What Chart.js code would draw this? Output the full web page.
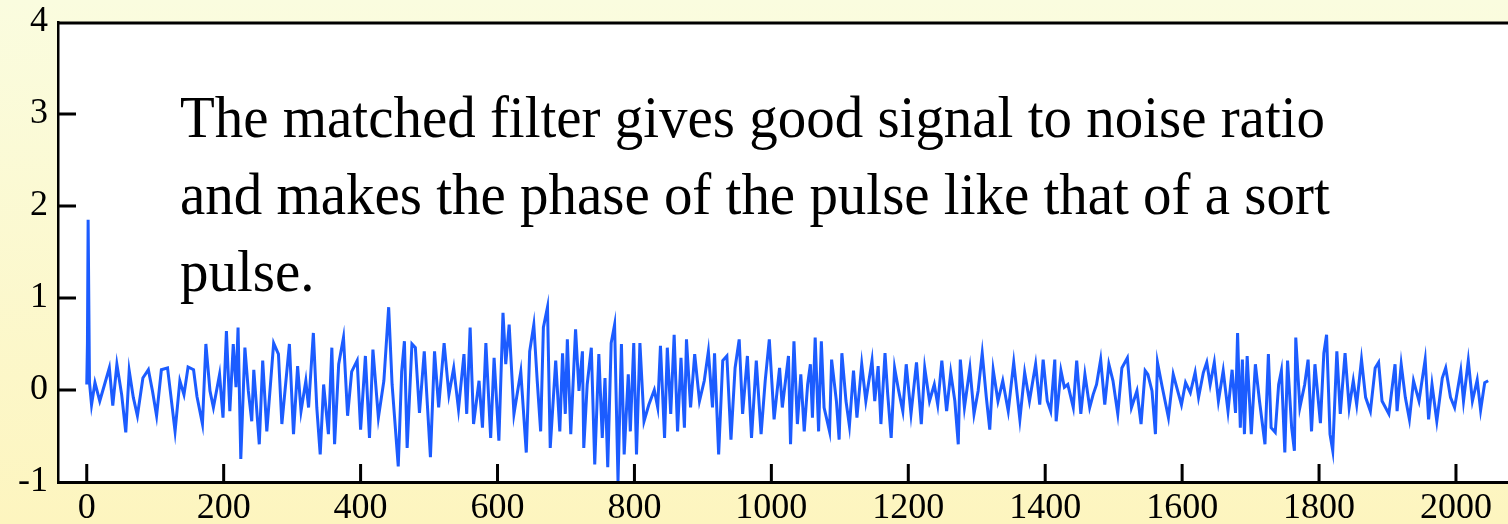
<!DOCTYPE html>
<html>
<head>
<meta charset="utf-8">
<script src="https://cdn.jsdelivr.net/npm/chart.js@4"></script>
<style>
  html, body { margin: 0; padding: 0; background: #fbfbdc; }
  canvas { display: block; }
</style>
</head>
<body>
<canvas id="filtro" width="1508" height="524"></canvas>
<script>
// valores: [muestra, amplitud]
var trace = [
  [0,0.06],[1,0.51],[2,1.85],[4,0.08],[7,-0.16],[12,0.08],[19,-0.12],[26,0.06],[33,0.24],[38,-0.17],
  [44,0.28],[51,-0.05],[57,-0.46],[62,0.21],[68,-0.08],[74,-0.28],[82,0.13],[90,0.22],[96,-0.01],[102,-0.28],
  [109,0.22],[118,0.24],[122,-0.01],[129,-0.45],[136,0.1],[142,-0.05],[148,0.25],[156,0.22],[161,-0.07],[169,-0.37],
  [174,0.5],[180,-0.01],[185,-0.19],[194,0.17],[199,-0.3],[204,0.64],[209,-0.23],[214,0.5],[218,0.03],[221,0.68],
  [225,-0.75],[231,0.46],[236,-0.01],[241,-0.34],[244,0.22],[252,-0.59],[257,0.32],[263,-0.45],[273,0.51],[280,0.39],
  [285,-0.37],[296,0.5],[302,-0.48],[308,0.26],[313,-0.23],[320,0.1],[324,-0.19],[331,0.62],[336,-0.19],[341,-0.7],
  [346,0.06],[353,-0.48],[358,0.46],[362,-0.59],[368,0.28],[375,0.57],[381,-0.28],[387,0.2],[395,0.32],[400,-0.43],
  [407,0.37],[413,-0.52],[418,0.44],[426,-0.3],[434,0.1],[441,0.9],[446,0.06],[455,-0.83],[460,0.2],[464,0.53],
  [468,-0.63],[475,0.5],[480,0.46],[486,-0.25],[493,0.42],[502,-0.73],[508,0.42],[514,-0.19],[522,0.51],[529,-0.05],
  [536,0.24],[543,-0.21],[551,0.39],[555,-0.26],[560,0.68],[565,-0.37],[573,0.1],[578,-0.41],[583,0.51],[590,-0.52],
  [595,0.35],[602,-0.55],[608,0.84],[612,0.28],[617,0.71],[624,-0.26],[634,0.2],[642,-0.68],[647,0.42],[653,0.71],
  [658,0.1],[663,-0.45],[667,0.68],[673,0.9],[677,-0.63],[685,0.32],[691,-0.45],[695,0.4],[699,-0.26],[702,0.55],
  [707,-0.48],[714,0.66],[719,-0.01],[724,0.42],[726,-0.63],[731,0.06],[737,0.46],[742,-0.81],[748,0.39],[753,-0.52],
  [757,0.13],[761,-0.84],[766,0.51],[771,0.71],[776,-0.99],[781,0.5],[785,-0.7],[791,0.17],[794,-0.45],[799,0.51],
  [803,-0.7],[808,0.51],[814,-0.34],[821,-0.16],[829,0.0],[834,-0.19],[838,0.48],[844,-0.52],[848,0.46],[853,-0.26],
  [858,0.6],[863,-0.45],[868,0.35],[873,-0.41],[876,0.55],[882,-0.19],[888,0.39],[895,-0.12],[902,0.1],[908,0.42],
  [914,-0.19],[917,0.4],[923,-0.7],[929,0.32],[935,0.37],[941,-0.54],[947,0.24],[953,0.55],[958,-0.26],[965,0.37],
  [971,-0.52],[978,0.32],[985,-0.48],[991,0.1],[997,0.55],[1004,-0.32],[1012,0.24],[1016,-0.19],[1025,0.37],[1028,-0.59],
  [1033,0.53],[1038,-0.37],[1043,0.17],[1048,-0.45],[1053,0.06],[1057,0.28],[1060,-0.3],[1064,0.57],[1069,-0.45],[1073,0.53],
  [1077,-0.19],[1085,-0.45],[1088,0.33],[1095,-0.12],[1099,-0.54],[1103,0.4],[1109,-0.12],[1114,-0.39],[1120,0.21],[1125,-0.3],
  [1132,0.28],[1138,-0.12],[1147,0.32],[1151,-0.12],[1156,0.26],[1160,-0.37],[1166,0.4],[1170,-0.05],[1175,-0.52],[1180,0.24],
  [1186,-0.01],[1192,-0.23],[1197,0.28],[1204,-0.26],[1212,0.3],[1219,-0.37],[1224,0.24],[1231,-0.12],[1238,0.06],[1243,-0.16],
  [1249,0.32],[1256,-0.23],[1262,0.19],[1268,-0.12],[1273,-0.59],[1276,0.33],[1282,-0.19],[1290,0.24],[1296,-0.26],[1302,-0.01],
  [1308,0.4],[1314,-0.08],[1319,-0.43],[1324,0.22],[1331,-0.12],[1338,0.1],[1346,-0.23],[1354,0.3],[1363,-0.32],[1370,0.19],
  [1377,-0.12],[1386,0.28],[1392,-0.16],[1397,0.33],[1403,-0.12],[1408,-0.23],[1414,0.33],[1416,-0.34],[1423,0.21],[1428,0.03],
  [1433,0.06],[1441,-0.19],[1446,0.32],[1452,-0.26],[1458,0.17],[1465,-0.19],[1470,-0.05],[1475,0.06],[1481,0.33],[1487,-0.16],
  [1493,0.28],[1499,0.1],[1506,-0.26],[1512,0.24],[1520,0.35],[1526,-0.19],[1534,-0.01],[1540,-0.37],[1546,0.21],[1550,0.17],
  [1556,-0.01],[1561,-0.48],[1564,0.3],[1571,0.03],[1580,-0.3],[1587,0.17],[1595,-0.05],[1599,-0.16],[1605,0.08],[1612,-0.03],
  [1619,0.19],[1624,-0.08],[1631,0.19],[1636,0.3],[1641,0.06],[1647,0.3],[1653,-0.12],[1660,0.21],[1667,-0.23],[1673,0.22],
  [1678,-0.25],[1681,0.62],[1685,-0.41],[1688,0.33],[1691,-0.48],[1695,0.37],[1701,-0.48],[1707,0.28],[1713,-0.12],[1721,-0.59],
  [1726,0.39],[1730,-0.41],[1736,-0.46],[1741,0.06],[1745,0.21],[1750,-0.68],[1754,0.32],[1760,-0.41],[1764,-0.66],[1766,0.57],
  [1772,-0.19],[1779,0.06],[1784,0.33],[1789,-0.45],[1794,0.28],[1802,-0.36],[1807,0.4],[1811,0.6],[1816,-0.48],[1820,-0.66],
  [1826,0.42],[1831,-0.26],[1838,0.4],[1844,-0.19],[1850,0.1],[1855,-0.16],[1862,0.33],[1868,-0.08],[1875,-0.23],[1882,0.24],
  [1887,0.3],[1892,-0.12],[1902,-0.26],[1911,0.28],[1914,-0.23],[1920,0.28],[1926,-0.08],[1932,-0.32],[1938,0.1],[1946,-0.12],
  [1955,0.33],[1960,-0.32],[1965,0.06],[1972,-0.34],[1980,0.13],[1985,0.24],[1992,-0.08],[1998,-0.19],[2007,0.21],[2011,-0.12],
  [2018,0.32],[2024,-0.12],[2031,0.11],[2036,-0.22],[2042,0.08],[2047,0.1]
];

var xTicks = [0, 200, 400, 600, 800, 1000, 1200, 1400, 1600, 1800, 2000];
var yTicks = [-1, 0, 1, 2, 3, 4];
var innerYTicks = [0, 1, 2, 3];

var noteLines = [
  'The matched filter gives good signal to noise ratio',
  'and makes the phase of the pulse like that of a sort',
  'pulse.'
];

var serif = "'Liberation Serif', 'Times New Roman', serif";

// fondo amarillo, area blanca, marcas y texto
var fondo = {
  id: 'fondo',
  beforeDraw: function(chart) {
    var ctx = chart.ctx, a = chart.chartArea;
    var g = ctx.createLinearGradient(0, 0, 0, chart.height);
    g.addColorStop(0, '#fafcdf');
    g.addColorStop(1, '#fdf5bf');
    ctx.save();
    ctx.fillStyle = g;
    ctx.fillRect(0, 0, chart.width, chart.height);
    ctx.fillStyle = '#ffffff';
    ctx.fillRect(a.left, a.top, a.right - a.left, a.bottom - a.top);
    ctx.restore();
  },
  afterDraw: function(chart) {
    var ctx = chart.ctx, a = chart.chartArea;
    var xs = chart.scales.x, ys = chart.scales.y;
    ctx.save();
    ctx.strokeStyle = '#000';
    ctx.lineWidth = 3;
    // borde superior
    ctx.beginPath();
    ctx.moveTo(a.left, a.top + 1);
    ctx.lineTo(a.right, a.top + 1);
    ctx.stroke();
    // marcas hacia adentro
    ctx.beginPath();
    innerYTicks.forEach(function(v) {
      var y = ys.getPixelForValue(v);
      ctx.moveTo(a.left, y);
      ctx.lineTo(a.left + 18, y);
    });
    xTicks.forEach(function(v) {
      var x = xs.getPixelForValue(v);
      ctx.moveTo(x, a.bottom);
      ctx.lineTo(x, a.bottom - 18);
    });
    ctx.stroke();

    // texto
    ctx.fillStyle = '#000';
    ctx.font = '60px ' + serif;
    ctx.textBaseline = 'alphabetic';
    var ancho = ctx.measureText(noteLines[0]).width;
    var k = 1145 / ancho;
    var bases = [137, 214, 291];
    noteLines.forEach(function(t, i) {
      ctx.save();
      ctx.translate(180, bases[i]);
      ctx.scale(k, 1);
      ctx.fillText(t, 0, 0);
      ctx.restore();
    });
    ctx.restore();
  }
};

var ctx = document.getElementById('filtro');

new Chart(ctx, {
  type: 'line',
  data: {
    datasets: [{
      data: trace.map(function(p) { return { x: p[0], y: p[1] }; }),
      borderColor: 'rgb(28, 92, 255)',
      borderWidth: 3,
      pointRadius: 0,
      tension: 0,
      fill: false
    }]
  },
  options: {
    responsive: false,
    animation: false,
    devicePixelRatio: 1,
    layout: { autoPadding: false, padding: { top: 22, right: 0, left: 0, bottom: 0 } },
    plugins: { legend: { display: false }, tooltip: { enabled: false } },
    scales: {
      x: {
        type: 'linear',
        min: -42,
        max: 2076,
        afterBuildTicks: function(s) { s.ticks = xTicks.map(function(v) { return { value: v }; }); },
        afterFit: function(s) { s.height = 42; s.paddingLeft = 0; s.paddingRight = 0; },
        grid: { display: false, drawTicks: false },
        border: { display: true, color: '#000', width: 3 },
        ticks: {
          color: '#000', font: { family: serif, size: 36 }, padding: 5, maxRotation: 0, autoSkip: false,
          callback: function(v) { return String(v); }
        }
      },
      y: {
        min: -1,
        max: 4,
        afterBuildTicks: function(s) { s.ticks = yTicks.map(function(v) { return { value: v }; }); },
        afterFit: function(s) { s.width = 58; s.paddingTop = 0; s.paddingBottom = 0; },
        grid: { display: false, drawTicks: false },
        border: { display: true, color: '#000', width: 2.5 },
        ticks: { color: '#000', font: { family: serif, size: 36 }, padding: 10 }
      }
    }
  },
  plugins: [fondo]
});
</script>
</body>
</html>
